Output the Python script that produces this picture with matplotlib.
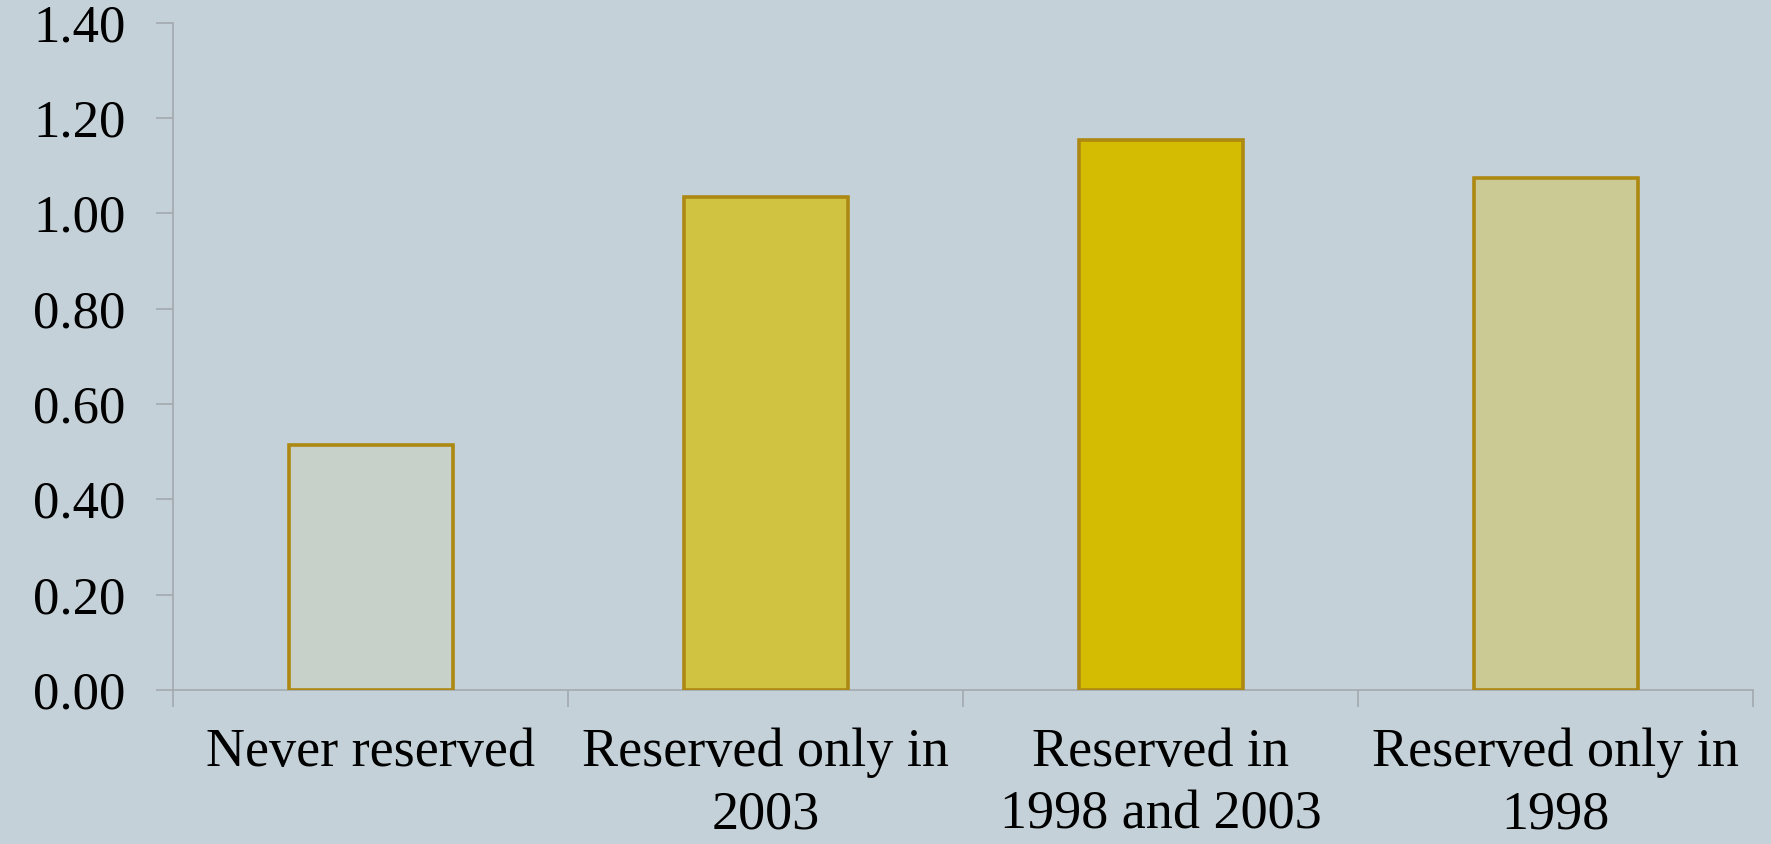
import matplotlib
matplotlib.use("Agg")
import matplotlib.pyplot as plt
from matplotlib.ticker import FixedLocator

categories = ["Never reserved", "Reserved only in\n2003", "Reserved in\n1998 and 2003", "Reserved only in\n1998"]
values = [0.515, 1.035, 1.155, 1.075]
fill_colors = ["#C8D0CA", "#CFC341", "#D4BC03", "#CBCA94"]
yticks = [0.0, 0.2, 0.4, 0.6, 0.8, 1.0, 1.2, 1.4]

bg = "#C5D1D8"
plt.rcParams['font.family'] = ['Liberation Serif', 'DejaVu Serif']

fig = plt.figure(figsize=(17.71, 8.44), dpi=100, facecolor=bg)
ax = fig.add_axes([0.0977, 0.1825, 0.8923, 0.7905], facecolor=bg)

x = list(range(len(categories)))
ax.bar(x, values, width=0.415, color=fill_colors, edgecolor="#AD8812", linewidth=2.6, zorder=3)

ax.set_xlim(-0.5, len(categories) - 0.5)
ax.set_ylim(0, 1.4)
ax.set_yticks(yticks)
ax.set_yticklabels([f"{v:.2f}" for v in yticks], fontsize=38)

ax.set_xticks(x)
ax.set_xticklabels(categories, fontsize=39, linespacing=1.3)
ax.xaxis.set_minor_locator(FixedLocator([i - 0.5 for i in range(len(categories) + 1)]))
ax.tick_params(axis='x', which='major', length=0, pad=27)
ax.tick_params(axis='x', which='minor', length=12, width=1.2, color="#A3AAAE")
ax.tick_params(axis='y', which='major', length=12, width=1.2, color="#A3AAAE", pad=22)

for s in ['top', 'right']:
    ax.spines[s].set_visible(False)
for s in ['left', 'bottom']:
    ax.spines[s].set_color("#A3AAAE")
    ax.spines[s].set_linewidth(1.2)

fig.savefig("out.png", dpi=100, facecolor=bg)
